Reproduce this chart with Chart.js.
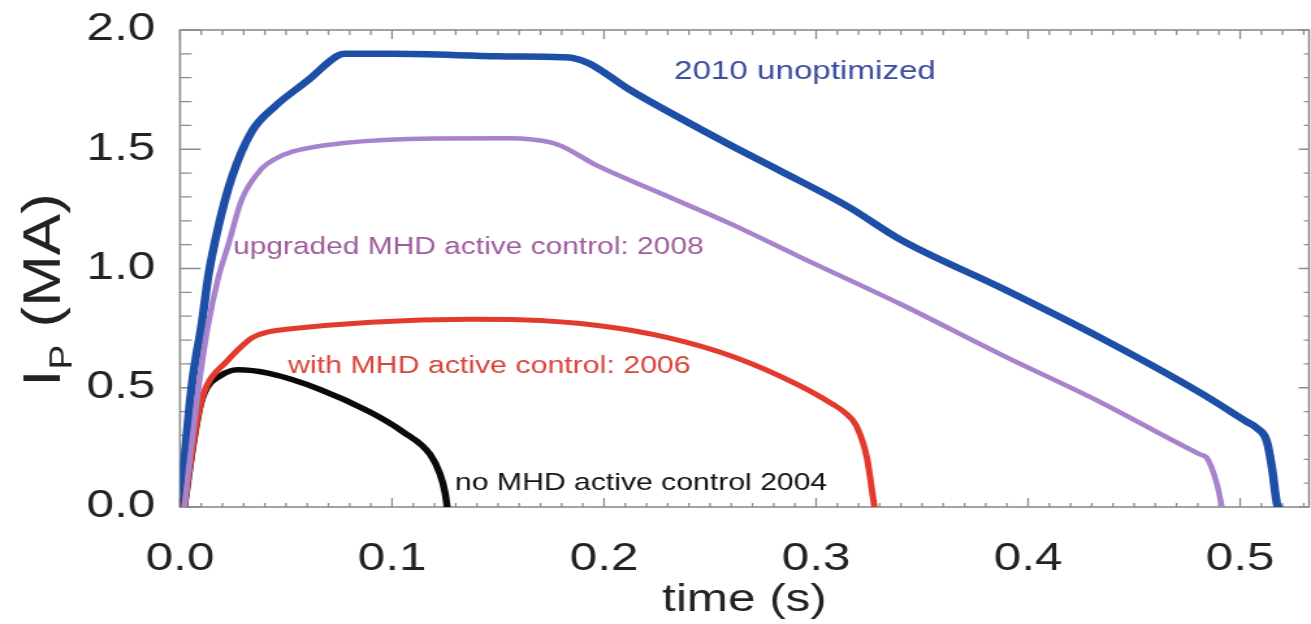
<!DOCTYPE html>
<html>
<head>
<meta charset="utf-8">
<script src="https://cdn.jsdelivr.net/npm/chart.js@4.4.1/dist/chart.umd.min.js"></script>
<style>
  html, body { margin: 0; padding: 0; background: #fff; overflow: hidden; }
  /* the figure is drawn narrow and widened, like the printed plot */
  #wrap { width: 1008px; height: 624px; transform: scaleX(1.3006); transform-origin: 0 0; }
</style>
</head>
<body>
<div id="wrap"><canvas id="ipChart" width="1008" height="624"></canvas></div>
<script>
// plasma current Ip (MA) against time (s), one trace per campaign
const time2010 = [0, 0.0057, 0.0102, 0.0134, 0.0181, 0.0244, 0.0338, 0.0448, 0.0605, 0.0745, 0.078, 0.10, 0.15, 0.18, 0.185, 0.193, 0.212, 0.236, 0.259, 0.283, 0.315, 0.340, 0.387, 0.434, 0.481, 0.503, 0.508, 0.5126, 0.515, 0.5173, 0.518];
const ip2010   = [0, 0.52, 0.766, 0.971, 1.176, 1.381, 1.574, 1.68, 1.79, 1.893, 1.90, 1.90, 1.89, 1.886, 1.883, 1.86, 1.75, 1.63, 1.52, 1.41, 1.26, 1.12, 0.92, 0.71, 0.48, 0.358, 0.33, 0.275, 0.165, 0.016, 0];

const time2008 = [0.002, 0.008, 0.013, 0.018, 0.0226, 0.029, 0.0387, 0.045, 0.053, 0.076, 0.120, 0.155, 0.160, 0.178, 0.197, 0.228, 0.259, 0.292, 0.340, 0.387, 0.434, 0.481, 0.4843, 0.489, 0.4914];
const ip2008   = [0, 0.45, 0.75, 0.96, 1.094, 1.287, 1.42, 1.46, 1.49, 1.525, 1.545, 1.546, 1.545, 1.52, 1.43, 1.31, 1.19, 1.05, 0.85, 0.64, 0.44, 0.221, 0.206, 0.098, 0];

const time2006 = [0.002, 0.006, 0.0094, 0.0127, 0.022, 0.028, 0.034, 0.042, 0.050, 0.090, 0.137, 0.16, 0.198, 0.230, 0.261, 0.292, 0.308, 0.313, 0.319, 0.324, 0.327, 0.3275];
const ip2006   = [0, 0.25, 0.42, 0.51, 0.61, 0.665, 0.71, 0.735, 0.745, 0.775, 0.787, 0.785, 0.76, 0.71, 0.63, 0.51, 0.43, 0.40, 0.34, 0.205, 0.03, 0];

const time2004 = [0.002, 0.006, 0.0094, 0.0127, 0.019, 0.027, 0.042, 0.066, 0.0896, 0.105, 0.118, 0.1226, 0.125, 0.126];
const ip2004   = [0, 0.25, 0.42, 0.50, 0.55, 0.575, 0.56, 0.493, 0.398, 0.316, 0.22, 0.139, 0.06, 0];

const xTickStep = 0.1;
const yTickStep = 0.5;

// curve captions: text, anchor time, anchor current
const captions = [
  { text: '2010 unoptimized', t: 0.233, ip: 1.795, size: 25.5, color: '#3b4d9c' },
  { text: 'upgraded MHD active control: 2008', t: 0.025, ip: 1.062, size: 23, color: '#9d5c9b' },
  { text: 'with MHD active control: 2006', t: 0.051, ip: 0.561, size: 23.3, color: '#d8433a' },
  { text: 'no MHD active control 2004', t: 0.1297, ip: 0.072, size: 23.2, color: '#111111' }
];

const toPoints = (ts, vs) => ts.map((t, k) => ({ x: t, y: vs[k] }));
const FONT = "'Liberation Sans', Arial, sans-serif";

function trace(label, ts, vs, color, width) {
  return {
    label: label,
    data: toPoints(ts, vs),
    borderColor: color,
    borderWidth: width,
    pointRadius: 0,
    fill: false,
    cubicInterpolationMode: 'monotone',
    borderJoinStyle: 'round',
    borderCapStyle: 'round'
  };
}

// boxed frame with inward major/minor ticks on all four sides
const frameTicks = {
  id: 'frameTicks',
  beforeDatasetsDraw(chart) {
    const { ctx, chartArea: a, scales: { x, y } } = chart;
    ctx.save();
    ctx.strokeStyle = '#8c8c8c';
    ctx.lineWidth = 1.6;
    ctx.strokeRect(a.left, a.top, a.right - a.left, a.bottom - a.top);
    ctx.lineWidth = 1.3;
    ctx.beginPath();
    const nx = Math.floor(x.max / 0.01 + 1e-6);
    for (let k = 0; k <= nx; k++) {
      const px = x.getPixelForValue(k * 0.01);
      const major = k % 10 === 0;
      ctx.moveTo(px, a.bottom); ctx.lineTo(px, a.bottom - (major ? 9 : 4));
      ctx.moveTo(px, a.top); ctx.lineTo(px, a.top + (major ? 9 : 5));
    }
    const ny = Math.round(y.max / 0.1);
    for (let k = 0; k <= ny; k++) {
      const py = y.getPixelForValue(k * 0.1);
      const major = k % 5 === 0;
      ctx.moveTo(a.left, py); ctx.lineTo(a.left + (major ? 16 : 9), py);
      ctx.moveTo(a.right, py); ctx.lineTo(a.right - (major ? 8 : 4), py);
    }
    ctx.stroke();
    ctx.restore();
  },
  afterDatasetsDraw(chart) {
    const { ctx, scales: { x, y } } = chart;
    ctx.save();
    ctx.textAlign = 'left';
    ctx.textBaseline = 'alphabetic';
    captions.forEach(c => {
      ctx.font = c.size + 'px ' + FONT;
      ctx.fillStyle = c.color;
      ctx.fillText(c.text, x.getPixelForValue(c.t), y.getPixelForValue(c.ip));
    });
    ctx.restore();
  },
  afterDraw(chart) {
    // vertical axis title with subscript P, widened along the text
    const { ctx } = chart;
    ctx.save();
    ctx.translate(31.5, 290);
    ctx.rotate(-Math.PI / 2);
    ctx.scale(1.55, 1);
    ctx.fillStyle = '#222';
    ctx.textBaseline = 'alphabetic';
    const big = '40px ' + FONT, small = '24px ' + FONT;
    ctx.font = big;
    const wI = ctx.measureText('I').width;
    const wRest = ctx.measureText(' (MA)').width;
    ctx.font = small;
    const wP = ctx.measureText('P').width;
    let cx = -(wI + wP + wRest) / 2;
    ctx.font = big;
    ctx.fillText('I', cx, 14.3); cx += wI;
    ctx.font = small;
    ctx.fillText('P', cx, 23); cx += wP;
    ctx.font = big;
    ctx.fillText(' (MA)', cx, 14.3);
    ctx.restore();
  }
};

new Chart(document.getElementById('ipChart'), {
  type: 'line',
  data: {
    datasets: [
      trace('upgraded MHD active control: 2008', time2008, ip2008, '#a683cc', 4.5),
      trace('with MHD active control: 2006', time2006, ip2006, '#e23b2e', 5),
      trace('no MHD active control 2004', time2004, ip2004, '#0a0a0a', 5.5),
      trace('2010 unoptimized', time2010, ip2010, '#1d4fa6', 6.5)
    ]
  },
  options: {
    responsive: false,
    animation: false,
    devicePixelRatio: 1,
    layout: { padding: { left: 0, right: 1.5, top: 19, bottom: 0 } },
    plugins: { legend: { display: false }, tooltip: { enabled: false } },
    scales: {
      x: {
        type: 'linear',
        min: 0,
        max: 0.5325,
        grid: { display: false },
        border: { display: false },
        ticks: {
          stepSize: xTickStep,
          includeBounds: false,
          autoSkip: false,
          maxRotation: 0,
          padding: 26,
          color: '#222',
          font: { family: FONT, size: 38, lineHeight: 1.0 },
          callback: v => v.toFixed(1)
        },
        title: {
          display: true,
          text: 'time (s)',
          color: '#222',
          font: { family: FONT, size: 38 },
          padding: { top: 0, bottom: 1 }
        },
        afterFit: s => { s.height = 117; }
      },
      y: {
        min: 0,
        max: 2.0,
        grid: { display: false },
        border: { display: false },
        ticks: {
          stepSize: yTickStep,
          padding: 11,
          color: '#222',
          font: { family: FONT, size: 38, lineHeight: 1.0 },
          callback: v => v.toFixed(1)
        },
        afterFit: s => { s.width = 138.4; }
      }
    }
  },
  plugins: [frameTicks]
});
</script>
</body>
</html>
